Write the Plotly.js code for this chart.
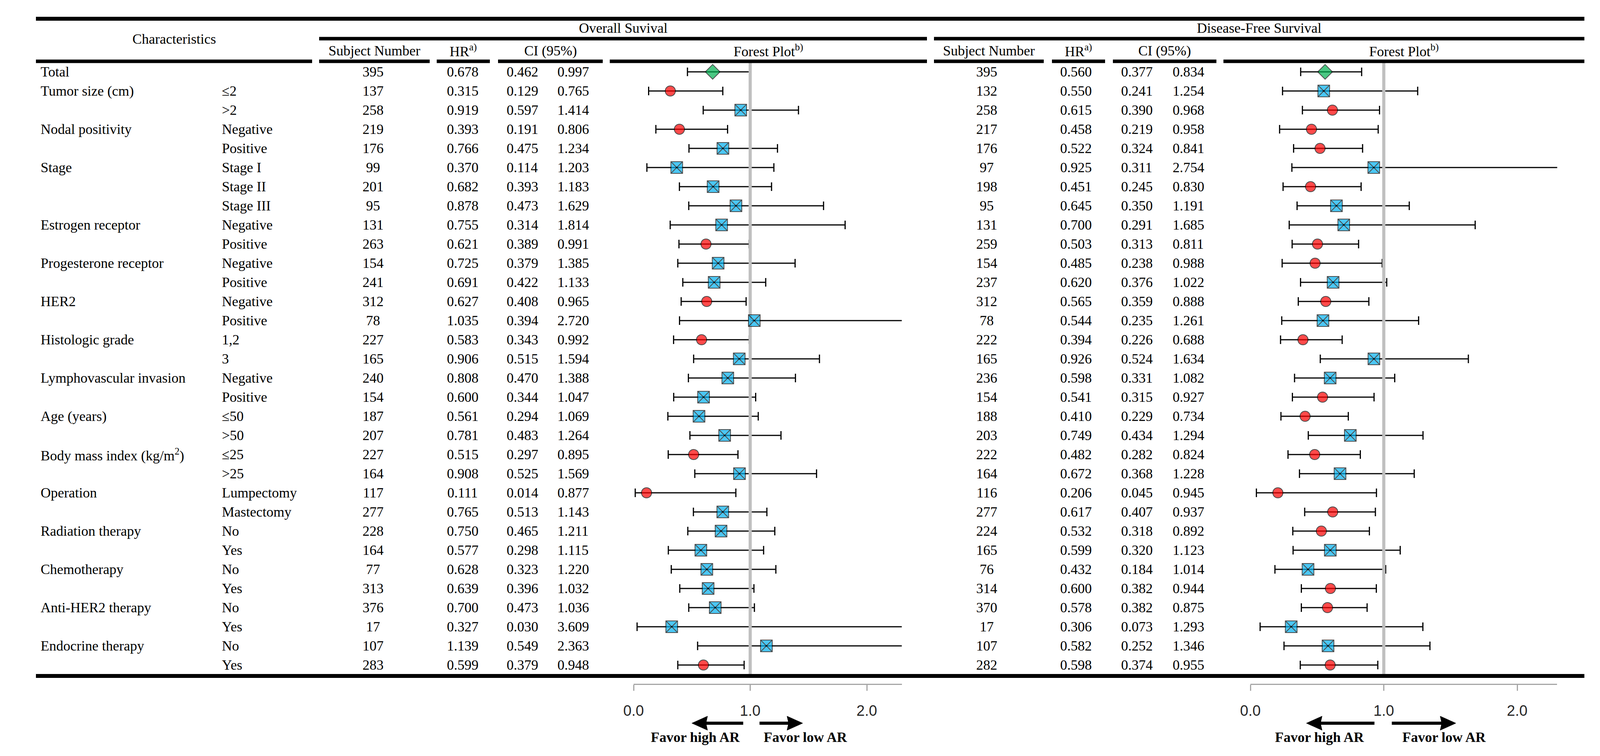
<!DOCTYPE html>
<html><head><meta charset="utf-8">
<script src="https://cdn.plot.ly/plotly-3.0.1.min.js"></script>
<style>html,body{margin:0;padding:0;background:#fff;overflow:hidden}#chart{width:4112px;height:1936px}</style>
</head><body><div id="chart"></div>
<script>
// ---------------- DATA ----------------
const characteristics = ['Total','Tumor size (cm)','','Nodal positivity','','Stage','','','Estrogen receptor','','Progesterone receptor','','HER2','','Histologic grade','','Lymphovascular invasion','','Age (years)','','Body mass index (kg/m<sup>2</sup>)','','Operation','','Radiation therapy','','Chemotherapy','','Anti-HER2 therapy','','Endocrine therapy',''];
const subgroups = ['','≤2','>2','Negative','Positive','Stage I','Stage II','Stage III','Negative','Positive','Negative','Positive','Negative','Positive','1,2','3','Negative','Positive','≤50','>50','≤25','>25','Lumpectomy','Mastectomy','No','Yes','No','Yes','No','Yes','No','Yes'];

const osN    = [395,137,258,219,176,99,201,95,131,263,154,241,312,78,227,165,240,154,187,207,227,164,117,277,228,164,77,313,376,17,107,283];
const osHR   = [0.678,0.315,0.919,0.393,0.766,0.370,0.682,0.878,0.755,0.621,0.725,0.691,0.627,1.035,0.583,0.906,0.808,0.600,0.561,0.781,0.515,0.908,0.111,0.765,0.750,0.577,0.628,0.639,0.700,0.327,1.139,0.599];
const osLow  = [0.462,0.129,0.597,0.191,0.475,0.114,0.393,0.473,0.314,0.389,0.379,0.422,0.408,0.394,0.343,0.515,0.470,0.344,0.294,0.483,0.297,0.525,0.014,0.513,0.465,0.298,0.323,0.396,0.473,0.030,0.549,0.379];
const osHigh = [0.997,0.765,1.414,0.806,1.234,1.203,1.183,1.629,1.814,0.991,1.385,1.133,0.965,2.720,0.992,1.594,1.388,1.047,1.069,1.264,0.895,1.569,0.877,1.143,1.211,1.115,1.220,1.032,1.036,3.609,2.363,0.948];

const dfsN    = [395,132,258,217,176,97,198,95,131,259,154,237,312,78,222,165,236,154,188,203,222,164,116,277,224,165,76,314,370,17,107,282];
const dfsHR   = [0.560,0.550,0.615,0.458,0.522,0.925,0.451,0.645,0.700,0.503,0.485,0.620,0.565,0.544,0.394,0.926,0.598,0.541,0.410,0.749,0.482,0.672,0.206,0.617,0.532,0.599,0.432,0.600,0.578,0.306,0.582,0.598];
const dfsLow  = [0.377,0.241,0.390,0.219,0.324,0.311,0.245,0.350,0.291,0.313,0.238,0.376,0.359,0.235,0.226,0.524,0.331,0.315,0.229,0.434,0.282,0.368,0.045,0.407,0.318,0.320,0.184,0.382,0.382,0.073,0.252,0.374];
const dfsHigh = [0.834,1.254,0.968,0.958,0.841,2.754,0.830,1.191,1.685,0.811,0.988,1.022,0.888,1.261,0.688,1.634,1.082,0.927,0.734,1.294,0.824,1.228,0.945,0.937,0.892,1.123,1.014,0.944,0.875,1.293,1.346,0.955];

const tickVals = [0, 1, 2];
const tickLabels = ['0.0', '1.0', '2.0'];
const refValue = 1;

// ---------------- LAYOUT GEOMETRY (pixels) ----------------
const W = 4112, H = 1936, ROW0 = 184, ROWH = 49;
const OS_X0 = 1622, OS_UNIT = 298.5, DFS_X0 = 3201, DFS_UNIT = 341.5, XMAX = 2.3;
const px = x => x / W, py = y => 1 - y / H;
const rows = osHR.map((_, i) => i);
const serif = 'Liberation Serif, Times New Roman, serif';
const TXT = {family: serif, size: 36, color: '#000'};
const RED = '#FF0000', BLUE = '#00B0F0', GREEN = '#00B050';

function markerStyle(high) {
  return {
    symbol: high.map((h, i) => i === 0 ? 'diamond' : (h < refValue ? 'circle' : 'square-x')),
    color:  high.map((h, i) => i === 0 ? GREEN : (h < refValue ? RED : BLUE)),
    size:   high.map((h, i) => i === 0 ? 29 : (h < refValue ? 26 : 30)),
    line: {color: '#000', width: 2}
  };
}

function panel(hr, low, high, xa) {
  return [
    {type: 'scatter', mode: 'markers', x: hr, y: rows, xaxis: xa, yaxis: 'y',
     marker: {size: 2, opacity: 0}, hoverinfo: 'skip',
     error_x: {type: 'data', symmetric: false,
               array: high.map((h, i) => h - hr[i]),
               arrayminus: low.map((l, i) => hr[i] - l),
               color: '#000', thickness: 3, width: 11}},
    {type: 'scatter', mode: 'lines', x: [refValue, refValue],
     y: [(157 - ROW0) / ROWH, (1731 - ROW0) / ROWH], xaxis: xa, yaxis: 'y',
     line: {color: '#BFBFBF', width: 8}, hoverinfo: 'skip'},
    {type: 'scatter', mode: 'markers', x: hr, y: rows, xaxis: xa, yaxis: 'y',
     marker: markerStyle(high)}
  ];
}

const data = [].concat(panel(osHR, osLow, osHigh, 'x'), panel(dfsHR, dfsLow, dfsHigh, 'x2'));

// ---------------- SHAPES ----------------
const shapes = [];
function hline(x0, x1, y, w) {
  shapes.push({type: 'line', xref: 'paper', yref: 'paper', x0: px(x0), x1: px(x1), y0: py(y), y1: py(y),
               line: {color: '#000', width: w}});
}
hline(92, 4056, 48, 10);
hline(817, 2373, 99, 9); hline(2391, 4056, 99, 9);
[[92, 799], [817, 1100], [1118, 1254], [1275, 1543], [1561, 2373],
 [2391, 2672], [2693, 2829], [2849, 3114], [3132, 4056]].forEach(s => hline(s[0], s[1], 157, 9));
hline(92, 4056, 1731, 10);

// favour arrows (thick shaft + filled head)
const ARROW_Y = 1852, HEAD_LEN = 36, HEAD_HALF = 18;
function arrow(xa, unit, tip, tail) {
  const dir = tail > tip ? 1 : -1;
  const base = tip + dir * HEAD_LEN / unit;
  shapes.push({type: 'line', xref: xa, yref: 'paper', x0: tail, x1: base, y0: py(ARROW_Y), y1: py(ARROW_Y),
               line: {color: '#000', width: 8}});
  shapes.push({type: 'path', xref: xa, yref: 'paper',
               path: `M ${tip},${py(ARROW_Y)} L ${base + dir * 4 / unit},${py(ARROW_Y - HEAD_HALF)} L ${base},${py(ARROW_Y)} L ${base + dir * 4 / unit},${py(ARROW_Y + HEAD_HALF)} Z`,
               fillcolor: '#000', line: {color: '#000', width: 1}});
}
arrow('x', OS_UNIT, 0.50, 0.94); arrow('x', OS_UNIT, 1.45, 1.08);
arrow('x2', DFS_UNIT, 0.42, 0.93); arrow('x2', DFS_UNIT, 1.54, 1.06);

// ---------------- TEXT ----------------
const ann = [];
function headText(t, x, y) {
  ann.push({text: t, xref: 'paper', yref: 'paper', x: px(x), y: py(y), xanchor: 'center', yanchor: 'middle',
            showarrow: false, font: TXT});
}
headText('Characteristics', 446, 100);
headText('Overall Suvival', 1595, 72);
headText('Disease-Free Survival', 3223, 72);
[['Subject Number', 958], ['HR<sup>a)</sup>', 1186], ['CI (95%)', 1409], ['Forest Plot<sup>b)</sup>', 1967],
 ['Subject Number', 2531], ['HR<sup>a)</sup>', 2761], ['CI (95%)', 2981], ['Forest Plot<sup>b)</sup>', 3594]]
 .forEach(h => headText(h[0], h[1], 130));

function cell(t, x, i, anchor) {
  if (t === '') return;
  ann.push({text: t, xref: 'paper', yref: 'y', x: px(x), y: i, xanchor: anchor, yanchor: 'middle',
            showarrow: false, font: TXT});
}
rows.forEach(i => {
  cell(characteristics[i], 102, i, 'left');
  cell(subgroups[i], 566, i, 'left');
  cell(String(osN[i]), 955, i, 'center');
  cell(osHR[i].toFixed(3), 1184, i, 'center');
  cell(osLow[i].toFixed(3), 1337, i, 'center');
  cell(osHigh[i].toFixed(3), 1467, i, 'center');
  cell(String(dfsN[i]), 2526, i, 'center');
  cell(dfsHR[i].toFixed(3), 2754, i, 'center');
  cell(dfsLow[i].toFixed(3), 2910, i, 'center');
  cell(dfsHigh[i].toFixed(3), 3042, i, 'center');
});

function favor(t, x) {
  ann.push({text: '<b>' + t + '</b>', xref: 'paper', yref: 'paper', x: px(x), y: py(1888),
            xanchor: 'center', yanchor: 'middle', showarrow: false, font: TXT});
}
favor('Favor high AR', 1780); favor('Favor low AR', 2062);
favor('Favor high AR', 3378); favor('Favor low AR', 3697);

// ---------------- AXES ----------------
function forestAxis(x0, unit) {
  return {domain: [px(x0), px(x0 + XMAX * unit)], range: [0, XMAX], anchor: 'free', position: py(1752),
          showgrid: false, zeroline: false, showline: true, linecolor: '#A6A6A6', linewidth: 3,
          ticks: 'outside', ticklen: 15, tickwidth: 3, tickcolor: '#A6A6A6',
          tickvals: tickVals, ticktext: tickLabels, ticklabelstandoff: 18,
          tickfont: {family: 'Liberation Sans, Arial, sans-serif', size: 38, color: '#262626'},
          fixedrange: true};
}

const layout = {
  width: W, height: H, margin: {l: 0, r: 0, t: 0, b: 0, pad: 0},
  paper_bgcolor: '#fff', plot_bgcolor: 'rgba(0,0,0,0)', showlegend: false,
  xaxis: forestAxis(OS_X0, OS_UNIT),
  xaxis2: forestAxis(DFS_X0, DFS_UNIT),
  yaxis: {domain: [0, 1], range: [(H - ROW0) / ROWH, -ROW0 / ROWH], visible: false, fixedrange: true},
  shapes: shapes, annotations: ann
};

Plotly.newPlot('chart', data, layout, {displayModeBar: false, staticPlot: true});
</script></body></html>
